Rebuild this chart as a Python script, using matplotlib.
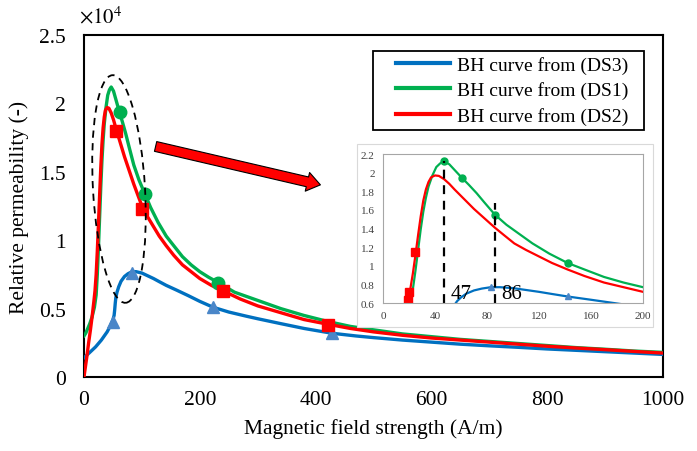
import numpy as np
import matplotlib
matplotlib.use("Agg")
import matplotlib.pyplot as plt
from matplotlib.patches import Ellipse, Rectangle
from matplotlib.transforms import IdentityTransform

plt.rcParams['font.family'] = ['Liberation Serif', 'DejaVu Serif']
plt.rcParams['mathtext.fontset'] = 'stix'

# === DATA (relative permeability in units of 1e4, H in A/m) ===
h_ds3 = [0, 5, 10, 15, 20, 25, 30, 35, 40, 45, 48, 50, 52, 53, 54, 55, 57, 60, 64,
         70, 76, 83, 90, 100, 110, 120, 130, 142, 160, 180, 200, 223, 250, 280, 300,
         340, 380, 428, 470, 500, 550, 600, 650, 700, 750, 800, 850, 900, 950, 1000]
mu_ds3 = [0.14, 0.16, 0.18, 0.20, 0.22, 0.245, 0.27, 0.30, 0.33, 0.37, 0.40, 0.42,
          0.45, 0.49, 0.54, 0.58, 0.62, 0.66, 0.70, 0.735, 0.755, 0.77, 0.77, 0.76,
          0.74, 0.72, 0.697, 0.67, 0.635, 0.595, 0.553, 0.51, 0.475, 0.445, 0.426,
          0.39, 0.355, 0.32, 0.30, 0.288, 0.27, 0.255, 0.24, 0.228, 0.217, 0.205,
          0.195, 0.185, 0.175, 0.165]

h_ds1 = [0, 3, 6, 10, 14, 18, 21, 23, 25, 27, 29, 31, 33, 35, 38, 41, 44, 47, 51,
         55, 61, 66, 72, 78, 86, 95, 105, 115, 128, 142, 155, 170, 185, 200, 215, 232,
         260, 300, 340, 380, 422, 460, 500, 550, 600, 650, 700, 750, 800, 850, 900,
         950, 1000]
mu_ds1 = [0.30, 0.32, 0.35, 0.39, 0.44, 0.51, 0.60, 0.75, 0.95, 1.17, 1.39, 1.58,
          1.73, 1.85, 1.97, 2.06, 2.10, 2.12, 2.09, 2.03, 1.94, 1.87, 1.78, 1.68,
          1.55, 1.44, 1.34, 1.24, 1.13, 1.03, 0.96, 0.88, 0.82, 0.77, 0.73, 0.69,
          0.62, 0.56, 0.50, 0.45, 0.405, 0.37, 0.345, 0.315, 0.295, 0.275, 0.26,
          0.245, 0.23, 0.215, 0.203, 0.19, 0.18]

h_ds2 = [0, 2, 5, 8, 11, 14, 17, 19, 21, 23, 25, 27, 29, 31, 33, 35, 37, 40, 43, 47,
         51, 55, 60, 65, 70, 78, 86, 93, 101, 110, 120, 130, 142, 155, 170, 185, 200,
         220, 240, 270, 300, 340, 380, 422, 460, 500, 550, 600, 650, 700, 750, 800,
         850, 900, 950, 1000]
mu_ds2 = [0.0, 0.06, 0.15, 0.25, 0.34, 0.44, 0.55, 0.63, 0.75, 0.92, 1.12, 1.33,
          1.53, 1.70, 1.82, 1.90, 1.95, 1.97, 1.965, 1.93, 1.88, 1.82, 1.75, 1.68,
          1.61, 1.51, 1.41, 1.33, 1.24, 1.17, 1.10, 1.03, 0.96, 0.89, 0.82, 0.77,
          0.72, 0.67, 0.63, 0.57, 0.52, 0.47, 0.42, 0.385, 0.355, 0.33, 0.305,
          0.285, 0.27, 0.255, 0.24, 0.225, 0.212, 0.20, 0.187, 0.175]

# marker points
mk_h_ds3 = [50, 83, 223, 428]
mk_mu_ds3 = [0.40, 0.76, 0.51, 0.32]
mk_h_ds1 = [63, 105, 232]
mk_mu_ds1 = [1.94, 1.34, 0.69]
mk_h_ds2 = [55, 101, 240, 422]
mk_mu_ds2 = [1.80, 1.23, 0.63, 0.38]

# inset marker points
in_h_ds3 = [83, 142]
in_mu_ds3 = [0.77, 0.67]
in_h_ds1 = [47, 61, 86, 142]
in_mu_ds1 = [2.12, 1.94, 1.55, 1.03]
in_h_ds2 = [19, 20, 25]
in_mu_ds2 = [0.63, 0.72, 1.15]

peak_h = [47, 86]
peak_top = [2.13, 1.67]

labels = ["BH curve from (DS3)", "BH curve from (DS1)", "BH curve from (DS2)"]
c_blue, c_green, c_red = "#0070C0", "#00B050", "#FF0000"
c_tri = "#4A86C8"

# === FIGURE ===
fig = plt.figure(figsize=(6.97, 4.52), dpi=100)
ax = fig.add_axes([0.1205, 0.1637, 0.8307, 0.7566])

ax.plot(h_ds3, mu_ds3, color=c_blue, lw=2.4, label=labels[0], zorder=3)
ax.plot(h_ds1, mu_ds1, color=c_green, lw=2.4, label=labels[1], zorder=4)
ax.plot(h_ds2, mu_ds2, color=c_red, lw=2.4, label=labels[2], zorder=5)
ax.plot(mk_h_ds3, mk_mu_ds3, ls="none", marker="^", ms=9, color=c_tri, zorder=6)
ax.plot(mk_h_ds1, mk_mu_ds1, ls="none", marker="o", ms=9, color=c_green, zorder=6)
ax.plot(mk_h_ds2, mk_mu_ds2, ls="none", marker="s", ms=8, color=c_red, zorder=7)

ax.set_xlim(0, 1000)
ax.set_ylim(0, 2.5)
ax.set_xticks([0, 200, 400, 600, 800, 1000])
ax.set_yticks([0, 0.5, 1, 1.5, 2, 2.5])
ax.set_yticklabels(["0", "0.5", "1", "1.5", "2", "2.5"])
ax.tick_params(length=0, labelsize=15.5)
ax.tick_params(axis="y", pad=13)
ax.tick_params(axis="x", pad=9)
for s in ax.spines.values():
    s.set_linewidth(1.5)
ax.set_xlabel("Magnetic field strength (A/m)", fontsize=15.5, labelpad=7)
ax.set_ylabel("Relative permeability (-)", fontsize=15.5, labelpad=7)
fig.text(0.113, 0.962, r"$\times10^4$", fontsize=15, ha="left", va="center")

# legend: no frame, box drawn separately
leg = ax.legend(loc="upper left", bbox_to_anchor=(396 / 697, 1 - 57 / 452),
                bbox_transform=fig.transFigure, fontsize=14, frameon=False,
                handlelength=2.8, borderpad=0, borderaxespad=0,
                labelspacing=0.38, handletextpad=0.35)
for ln in leg.get_lines():
    ln.set_linewidth(3)
fig.patches.append(Rectangle((373 / 697, 1 - 131 / 452), 271 / 697, 79 / 452,
                             transform=fig.transFigure, fill=False, ec="black",
                             lw=1.3, zorder=3))

# dashed ellipse round the peaks (pixel coordinates)
ell = Ellipse((119, 452 - 190), 52, 228, angle=3.3, transform=IdentityTransform(),
              fill=False, ls=(0, (4, 3)), lw=1.3, ec="black", zorder=10)
ax.add_artist(ell)

# fat red arrow
ax.annotate("", xy=(413, 1.40), xytext=(119, 1.69),
            arrowprops=dict(arrowstyle="simple,head_length=0.8,head_width=1.15,tail_width=0.6",
                            fc="red", ec="black", lw=0.8, mutation_scale=12),
            zorder=10)

# === INSET ===
bg = Rectangle((0.5122, 0.2743), 0.4247, 0.4049, transform=fig.transFigure,
               fc="white", ec="#d9d9d9", lw=0.8, zorder=1)
fig.patches.append(bg)

axi = fig.add_axes([0.5495, 0.3274, 0.373, 0.3296])
axi.set_zorder(2)
axi.plot(h_ds3, mu_ds3, color=c_blue, lw=1.6)
axi.plot(h_ds1, mu_ds1, color=c_green, lw=1.6)
axi.plot(h_ds2, mu_ds2, color=c_red, lw=1.6)
axi.plot(in_h_ds3, in_mu_ds3, ls="none", marker="^", ms=5, color=c_tri)
axi.plot(in_h_ds1, in_mu_ds1, ls="none", marker="o", ms=5, color=c_green)
axi.plot(in_h_ds2, in_mu_ds2, ls="none", marker="s", ms=6, color=c_red)
for h, top in zip(peak_h, peak_top):
    axi.vlines(h, 0.6, top, colors="black", linestyles=(0, (4, 3)), lw=1.6)
    axi.text(h + 5, 0.6, str(h), fontsize=15, ha="left", va="bottom")
axi.set_xlim(0, 200)
axi.set_ylim(0.6, 2.2)
axi.set_xticks([0, 40, 80, 120, 160, 200])
axi.set_yticks([0.6, 0.8, 1, 1.2, 1.4, 1.6, 1.8, 2, 2.2])
axi.set_yticklabels(["0.6", "0.8", "1", "1.2", "1.4", "1.6", "1.8", "2", "2.2"])
axi.tick_params(length=0, labelsize=8, labelcolor="#404040", pad=6)
for s in axi.spines.values():
    s.set_color("#a6a6a6")
    s.set_linewidth(0.8)

fig.savefig("out.png", dpi=100)
